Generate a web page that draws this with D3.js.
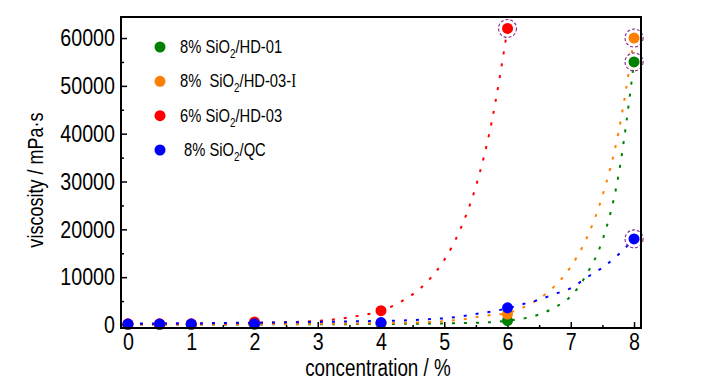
<!DOCTYPE html>
<html>
<head>
<meta charset="utf-8">
<script src="https://cdn.jsdelivr.net/npm/d3@7"></script>
<style>
  body { margin: 0; background: #fff; }
  text { font-family: "Liberation Sans", Arial, sans-serif; }
</style>
</head>
<body>
<div id="chart"></div>
<script>
// measured points
const concs = [0, 0.5, 1, 2, 4, 6, 8];
const hd01 = [100, 100, 100, 150, 300, 900, 55000];
const hd03i = [150, 150, 150, 250, 400, 2300, 60000];
const hd03 = [250, 250, 250, 650, 3000, 62000];
const qc = [200, 200, 200, 250, 500, 3600, 18000];

// fitted curves
const fitX = [0, 0.5, 1, 1.5, 2, 2.5, 3, 3.5, 4, 4.25, 4.5, 4.75, 5, 5.25, 5.5, 5.75, 6, 6.25, 6.5, 6.75, 7, 7.25, 7.5, 7.75, 8];
const fitHd01 = [100, 100, 110, 110, 120, 140, 160, 180, 200, 230, 260, 300, 330, 380, 450, 600, 900, 1350, 2200, 3700, 6000, 10600, 17700, 31000, 55000];
const fitHd03i = [150, 150, 160, 170, 180, 210, 250, 300, 380, 420, 500, 600, 800, 1100, 1650, 2100, 2500, 3700, 5500, 8200, 12200, 18100, 27000, 40000, 60000];
const fitHd03 = [200, 210, 230, 320, 420, 580, 850, 1600, 3000, 4400, 6400, 9300, 13600, 19900, 29000, 42500, 62000];
const fitQc = [300, 330, 370, 420, 480, 550, 640, 740, 850, 920, 1020, 1200, 1400, 1750, 2300, 2800, 3500, 4400, 5300, 6500, 7700, 9900, 12000, 14700, 18000];

const xTicks = [0, 1, 2, 3, 4, 5, 6, 7, 8];
const yTicks = [0, 10000, 20000, 30000, 40000, 50000, 60000];

const width = 727, height = 389;
const mLeft = 121, mTop = 17, mRight = 641, mBottom = 328;
const narrow = 0.82; // fake a narrow face

const svg = d3.select("#chart").append("svg")
    .attr("width", width)
    .attr("height", height);

const x = d3.scaleLinear().domain([-0.11, 8.11]).range([mLeft, mRight]);
const y = d3.scaleLinear().domain([-630, 64400]).range([mBottom, mTop]);

// series in draw order (blue on top)
const series = [
  { name: "hd01", color: "rgb(0,128,0)", vals: hd01, fit: fitHd01, ring: [6] },
  { name: "hd03i", color: "rgb(255,128,0)", vals: hd03i, fit: fitHd03i, ring: [6] },
  { name: "hd03", color: "rgb(255,0,0)", vals: hd03, fit: fitHd03, ring: [5] },
  { name: "qc", color: "rgb(0,0,255)", vals: qc, fit: fitQc, ring: [6] }
];

// axes with inward ticks
const xAxis = svg.append("g")
    .attr("transform", `translate(0,${mBottom})`)
    .call(d3.axisBottom(x).tickValues(xTicks).tickSize(-6).tickPadding(5).tickFormat(d3.format("d")));
svg.append("g")
    .attr("transform", `translate(0,${mBottom})`)
    .call(d3.axisBottom(x).tickValues(d3.range(0.5, 8, 1)).tickSize(-3).tickFormat(""));
const yAxis = svg.append("g")
    .attr("transform", `translate(${mLeft},0)`)
    .call(d3.axisLeft(y).tickValues(yTicks).tickSize(-6).tickPadding(6).tickFormat(d3.format("d")));
svg.append("g")
    .attr("transform", `translate(${mLeft},0)`)
    .call(d3.axisLeft(y).tickValues(d3.range(5000, 64000, 10000)).tickSize(-3).tickFormat(""));

svg.selectAll(".domain").remove();
svg.selectAll(".tick line").attr("stroke", "#000").attr("stroke-width", 1.5);
xAxis.selectAll("text")
    .attr("font-size", 24)
    .attr("fill", "#000")
    .attr("transform", `scale(${narrow},1)`);
yAxis.selectAll("text")
    .attr("font-size", 24)
    .attr("fill", "#000")
    .attr("x", -6 / narrow)
    .attr("transform", `scale(${narrow},1)`);

// fitted dotted curves
const line = d3.line()
    .x(d => x(d[0]))
    .y(d => y(d[1]))
    .curve(d3.curveMonotoneX);

series.forEach(s => {
  svg.append("path")
      .datum(s.fit.map((v, i) => [fitX[i], v]))
      .attr("d", line)
      .attr("fill", "none")
      .attr("stroke", s.color)
      .attr("stroke-width", 2)
      .attr("stroke-dasharray", "3,9");
});

// points
series.forEach(s => {
  svg.append("g").selectAll("circle")
      .data(s.vals)
      .join("circle")
      .attr("cx", (d, i) => x(concs[i]))
      .attr("cy", d => y(d))
      .attr("r", 5.5)
      .attr("fill", s.color);
});

// dashed rings on the end points
series.forEach(s => {
  s.ring.forEach(i => {
    svg.append("circle")
        .attr("cx", x(concs[i]))
        .attr("cy", y(s.vals[i]))
        .attr("r", 9)
        .attr("fill", "none")
        .attr("stroke", "rgb(140,50,140)")
        .attr("stroke-width", 1.2)
        .attr("stroke-dasharray", "3,2");
  });
});

// frame
svg.append("rect")
    .attr("x", mLeft)
    .attr("y", mTop)
    .attr("width", mRight - mLeft)
    .attr("height", mBottom - mTop)
    .attr("fill", "none")
    .attr("stroke", "#000")
    .attr("stroke-width", 2);

// legend
const legend = [
  { color: "rgb(0,128,0)", pre: "8% SiO", post: "/HD-01", tail: "" },
  { color: "rgb(255,128,0)", pre: "8%  SiO", post: "/HD-03-", tail: "I" },
  { color: "rgb(255,0,0)", pre: "6% SiO", post: "/HD-03", tail: "" },
  { color: "rgb(0,0,255)", pre: " 8% SiO", post: "/QC", tail: "" }
];
const legY = d3.scalePoint().domain(d3.range(legend.length)).range([47, 150]);

const lg = svg.append("g").selectAll("g")
    .data(legend)
    .join("g")
    .attr("transform", (d, i) => `translate(160,${legY(i)})`);
lg.append("circle").attr("r", 5.5).attr("fill", d => d.color);
const lt = lg.append("text")
    .attr("transform", `translate(20,6) scale(${narrow},1)`)
    .attr("font-size", 18)
    .attr("fill", "#000")
    .style("white-space", "pre");
lt.append("tspan").text(d => d.pre);
lt.append("tspan").attr("font-size", 12).attr("dy", 5).text("2");
lt.append("tspan").attr("dy", -5).text(d => d.post);
lt.append("tspan").style("font-family", "'Liberation Serif', serif").text(d => d.tail);

// axis titles
svg.append("text")
    .attr("transform", `translate(378,376) scale(${narrow},1)`)
    .attr("text-anchor", "middle")
    .attr("font-size", 23)
    .text("concentration / %");
svg.append("text")
    .attr("transform", `translate(43,180) rotate(-90) scale(${narrow},1)`)
    .attr("text-anchor", "middle")
    .attr("font-size", 22)
    .text("viscosity / mPa·s");
</script>
</body>
</html>
